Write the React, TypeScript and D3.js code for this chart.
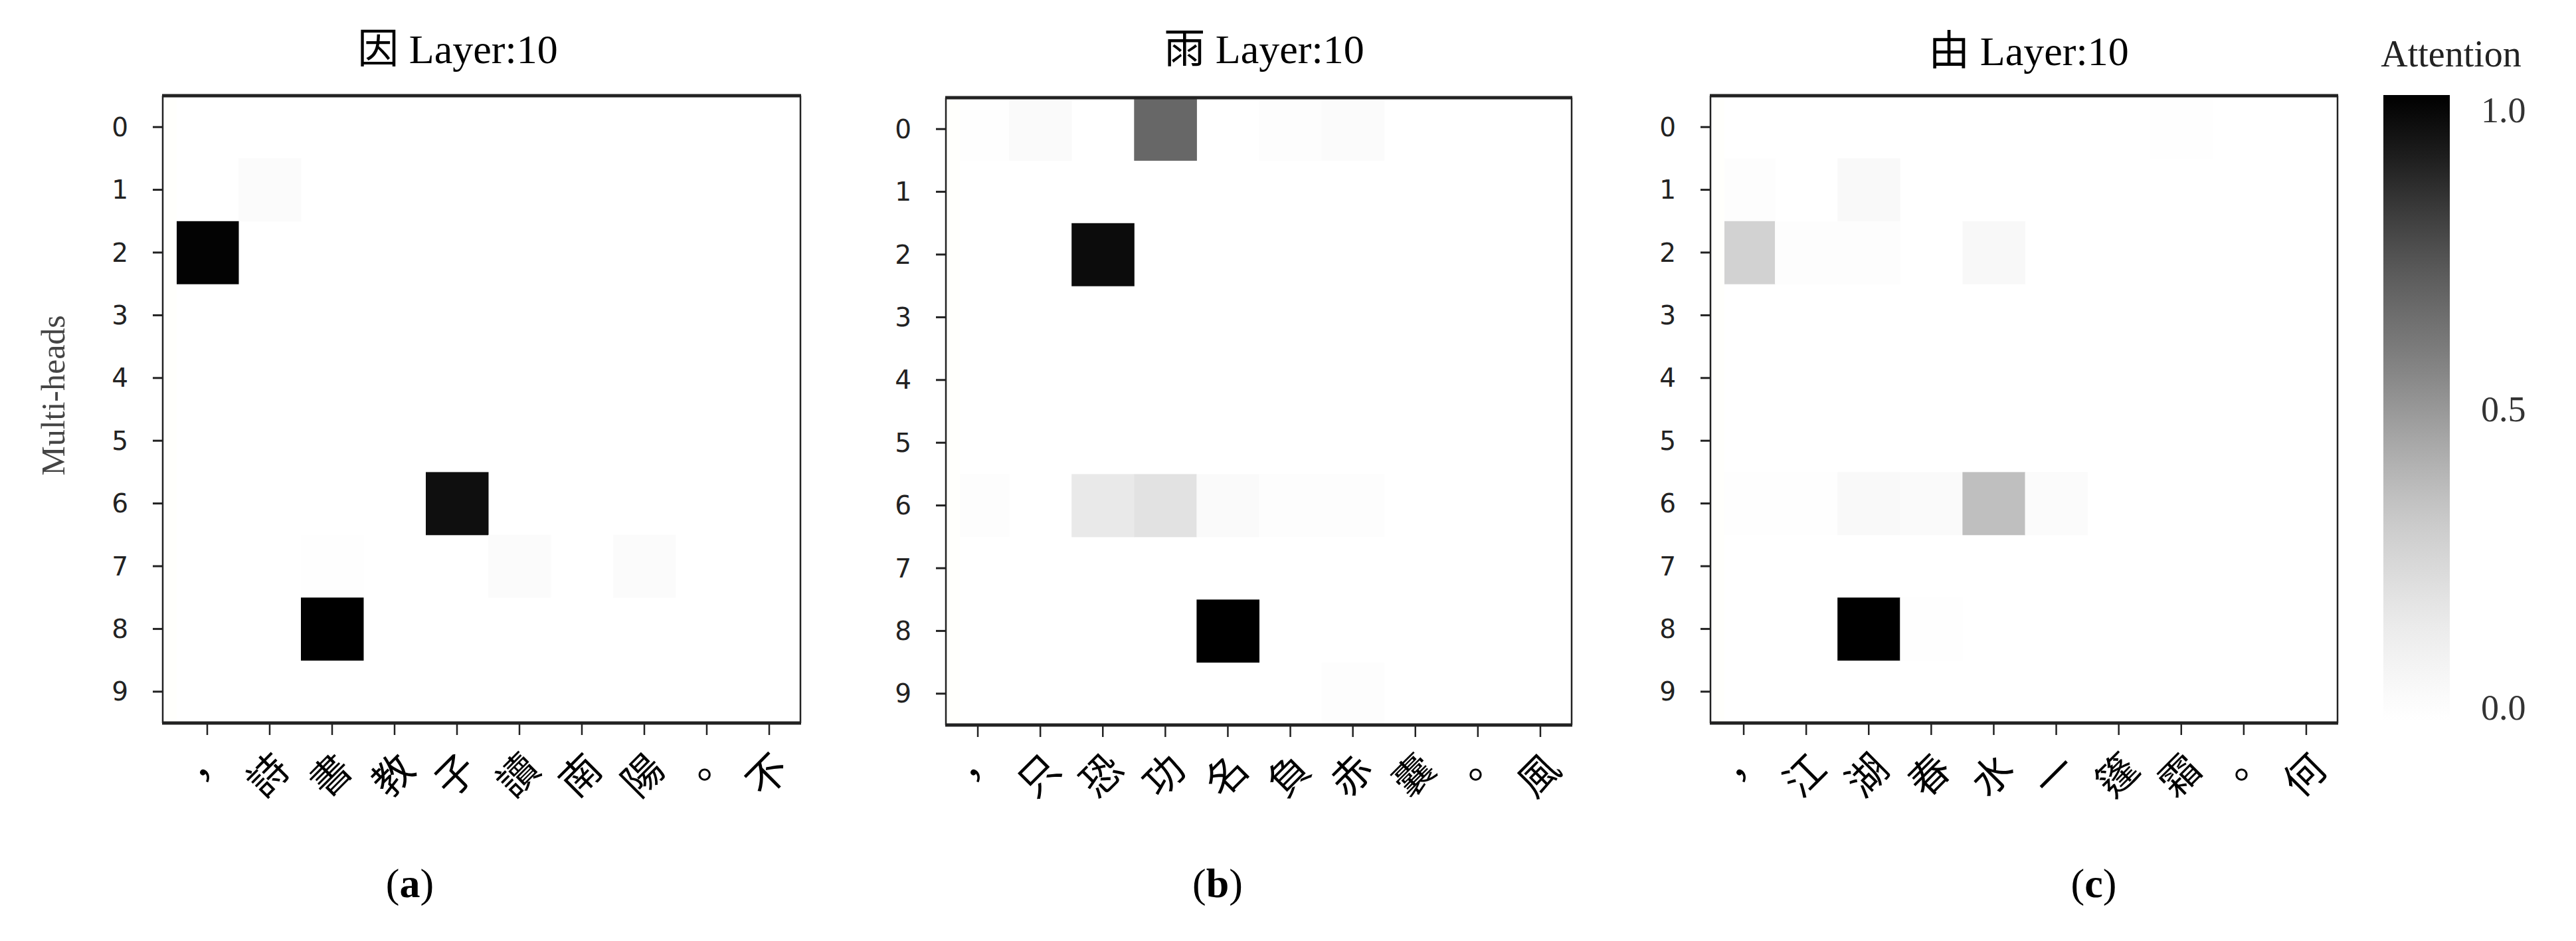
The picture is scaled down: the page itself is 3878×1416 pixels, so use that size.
import React from "react";
import * as d3 from "d3";

// ---------- data ----------
const heads = [0, 1, 2, 3, 4, 5, 6, 7, 8, 9];
const titlesChars = ["因", "雨", "由"];
const layerLabel = "Layer:10";
const captions = ["a", "b", "c"];

const tokensA = ["，", "詩", "書", "教", "子", "讀", "南", "陽", "。", "不"];
const tokensB = ["，", "只", "恐", "功", "名", "負", "赤", "囊", "。", "風"];
const tokensC = ["，", "江", "湖", "春", "水", "一", "篷", "霜", "。", "何"];

// attention[head][token]
const attnA = [
  [0, 0, 0, 0, 0, 0, 0, 0, 0, 0],
  [0, 0.03, 0, 0, 0, 0, 0, 0, 0, 0],
  [0.99, 0, 0, 0, 0, 0, 0, 0, 0, 0],
  [0, 0, 0, 0, 0, 0, 0, 0, 0, 0],
  [0, 0, 0, 0, 0, 0, 0, 0, 0, 0],
  [0, 0, 0, 0, 0, 0, 0, 0, 0, 0],
  [0, 0, 0, 0, 0.95, 0, 0, 0, 0, 0],
  [0, 0, 0.01, 0, 0, 0.03, 0, 0.035, 0, 0],
  [0, 0, 1.0, 0, 0, 0, 0, 0, 0, 0],
  [0, 0, 0, 0, 0, 0, 0, 0, 0, 0],
];
const attnB = [
  [0.01, 0.04, 0, 0.67, 0, 0.015, 0.03, 0, 0, 0],
  [0, 0, 0, 0, 0, 0, 0, 0, 0, 0],
  [0, 0, 0.96, 0, 0, 0, 0, 0, 0, 0],
  [0, 0, 0, 0, 0, 0, 0, 0, 0, 0],
  [0, 0, 0, 0, 0, 0, 0, 0, 0, 0],
  [0, 0, 0, 0, 0, 0, 0, 0, 0, 0],
  [0.015, 0, 0.16, 0.2, 0.04, 0.015, 0.02, 0, 0, 0],
  [0, 0, 0, 0, 0, 0, 0, 0, 0, 0],
  [0, 0, 0, 0, 1.0, 0, 0, 0, 0, 0],
  [0, 0, 0, 0, 0, 0, 0.015, 0, 0, 0],
];
const attnC = [
  [0, 0, 0, 0, 0, 0, 0, 0.01, 0, 0],
  [0.015, 0, 0.05, 0, 0, 0, 0, 0, 0, 0],
  [0.28, 0.015, 0.015, 0, 0.055, 0, 0, 0, 0, 0],
  [0, 0, 0, 0, 0, 0, 0, 0, 0, 0],
  [0, 0, 0, 0, 0, 0, 0, 0, 0, 0],
  [0, 0, 0, 0, 0, 0, 0, 0, 0, 0],
  [0.01, 0.01, 0.05, 0.04, 0.36, 0.03, 0, 0, 0, 0],
  [0, 0, 0, 0, 0, 0, 0, 0, 0, 0],
  [0, 0, 1.0, 0.01, 0, 0, 0, 0, 0, 0],
  [0, 0, 0, 0, 0, 0, 0, 0, 0, 0],
];
const colorbarTicks = [0.0, 0.5, 1.0];

// ---------- layout ----------
const W = 3878;
const H = 1416;
const panels = [
  { tokens: tokensA, attn: attnA, frame: [245, 1205, 144, 1088], cells: [265, 1205], titleX: 689, titleY: 95, capX: 617 },
  { tokens: tokensB, attn: attnB, frame: [1424, 2366, 147, 1091], cells: [1425, 2366], titleX: 1903, titleY: 95, capX: 1833 },
  { tokens: tokensC, attn: attnC, frame: [2575, 3519, 144, 1088], cells: [2578, 3519], titleX: 3054, titleY: 98, capX: 3152 },
];
const STRIP = 21;
const LABEL_Y = 1163;
const color = (v: number) => d3.interpolateGreys(v);
const serif = "'Liberation Serif', 'Times New Roman', 'Noto Sans CJK TC', serif";
const sans = "'DejaVu Sans', 'Noto Sans', sans-serif";
const cjk = "'Noto Sans CJK TC', 'Noto Sans CJK SC', sans-serif";

function Panel({ p, idx }: { p: any; idx: number }) {
  const [fl, fr, ft, fb] = p.frame;
  const x = d3.scaleBand<number>().domain(heads).range([p.cells[0], p.cells[1]]);
  const y = d3.scaleBand<number>().domain(heads).range([ft, fb]);
  const cells: any[] = [];
  p.attn.forEach((row: number[], r: number) =>
    row.forEach((v: number, c: number) => {
      if (v <= 0) return;
      cells.push(
        <rect key={`${r}-${c}`} x={x(c)} y={y(r)} width={x.bandwidth() + 0.5} height={y.bandwidth() + 0.5} fill={color(v)} />
      );
    })
  );
  return (
    <g>
      <rect x={fl} y={ft} width={fr - fl} height={fb - ft} fill="#fff" />
      {cells}
      <rect x={fl} y={ft} width={STRIP} height={fb - ft} fill="#fffffc" />
      {/* frame */}
      <line x1={fl} x2={fl} y1={ft} y2={fb} stroke="#222" strokeWidth={2.5} />
      <line x1={fr} x2={fr} y1={ft} y2={fb} stroke="#222" strokeWidth={2.5} />
      <line x1={fl - 1} x2={fr + 1} y1={ft} y2={ft} stroke="#222" strokeWidth={5} />
      <line x1={fl - 1} x2={fr + 1} y1={fb} y2={fb} stroke="#222" strokeWidth={5} />
      {/* y ticks */}
      {heads.map((h) => {
        const cy = (y(h) as number) + y.bandwidth() / 2;
        return (
          <g key={`yt${h}`}>
            <line x1={fl - 15} x2={fl} y1={cy} y2={cy} stroke="#222" strokeWidth={3} />
            <text x={fl - 52} y={cy} textAnchor="end" dominantBaseline="central" fontFamily={sans} fontSize={39} fill="#222">
              {h}
            </text>
          </g>
        );
      })}
      {/* x ticks */}
      {heads.map((c) => {
        const cx = (x(c) as number) + x.bandwidth() / 2;
        const lx = cx - 6;
        return (
          <g key={`xt${c}`}>
            <line x1={cx} x2={cx} y1={fb} y2={fb + 18} stroke="#222" strokeWidth={2.5} />
            <text
              x={lx}
              y={LABEL_Y}
              textAnchor="middle"
              dominantBaseline="central"
              fontFamily={cjk}
              fontSize={60}
              fill="#000"
              transform={`rotate(-45, ${lx}, ${LABEL_Y})`}
            >
              {p.tokens[c]}
            </text>
          </g>
        );
      })}
      {/* title */}
      <text x={p.titleX} y={p.titleY} textAnchor="middle" fontFamily={serif} fontSize={62} fill="#000">
        {titlesChars[idx] + " " + layerLabel}
      </text>
      {/* caption */}
      <text x={p.capX} y={1350} textAnchor="middle" fontFamily={serif} fontSize={62} fill="#000">
        (<tspan fontWeight="bold">{captions[idx]}</tspan>)
      </text>
    </g>
  );
}

export default function App() {
  const cbTop = 143;
  const cbBottom = 1084;
  const cbX = 3588;
  const cbW = 100;
  const lab = d3.scaleLinear().domain([0, 1]).range([1065, 166]);
  const stops = d3.range(0, 1.0001, 0.05);
  return (
    <svg width={W} height={H} viewBox={`0 0 ${W} ${H}`} style={{ position: "absolute", left: 0, top: 0, background: "#fff" }}>
      <rect width={W} height={H} fill="#fff" />
      <defs>
        <linearGradient id="cbgrad" x1="0" y1="1" x2="0" y2="0">
          {stops.map((s) => (
            <stop key={s} offset={`${s * 100}%`} stopColor={color(s)} />
          ))}
        </linearGradient>
      </defs>
      {panels.map((p, i) => (
        <Panel key={i} p={p} idx={i} />
      ))}
      <text
        x={80}
        y={595}
        textAnchor="middle"
        dominantBaseline="central"
        fontFamily={serif}
        fontSize={50}
        fill="#444"
        transform="rotate(-90, 80, 595)"
      >
        Multi-heads
      </text>
      {/* colorbar */}
      <rect x={cbX} y={cbTop} width={cbW} height={cbBottom - cbTop} fill="url(#cbgrad)" />
      <text x={3690} y={100} textAnchor="middle" fontFamily={serif} fontSize={56} fill="#222">
        Attention
      </text>
      {colorbarTicks.map((t) => (
        <text key={t} x={3735} y={lab(t)} dominantBaseline="central" fontFamily={serif} fontSize={54} fill="#333">
          {t.toFixed(1)}
        </text>
      ))}
    </svg>
  );
}
